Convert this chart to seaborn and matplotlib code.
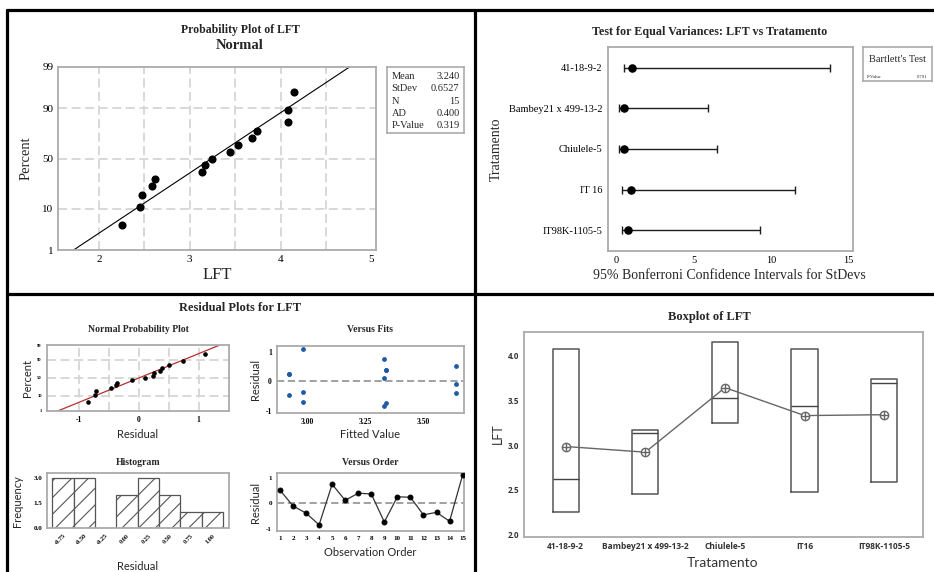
import matplotlib
matplotlib.use("Agg")
import numpy as np
import pandas as pd
import seaborn as sns
import matplotlib.pyplot as plt
from matplotlib.lines import Line2D
from statistics import NormalDist

# ---------------- data ----------------
treatments = ["41-18-9-2", "Bambey21 x 499-13-2", "Chiulele-5", "IT16", "IT98K-1105-5"]
obs_order = list(range(1, 16))
obs_treatment = ["Chiulele-5", "Chiulele-5", "Chiulele-5",
                 "IT16", "IT16", "IT16",
                 "IT98K-1105-5", "IT98K-1105-5", "IT98K-1105-5",
                 "Bambey21 x 499-13-2", "Bambey21 x 499-13-2", "Bambey21 x 499-13-2",
                 "41-18-9-2", "41-18-9-2", "41-18-9-2"]
lft = [4.15, 3.53, 3.25, 2.47, 4.08, 3.44, 3.74, 3.69, 2.59, 3.17, 3.14, 2.45, 2.62, 2.25, 4.08]
fitted = [3.64, 3.64, 3.64, 3.33, 3.33, 3.33, 3.34, 3.34, 3.34, 2.92, 2.92, 2.92, 2.98, 2.98, 2.98]
residual = [0.51, -0.11, -0.39, -0.85, 0.74, 0.11, 0.39, 0.36, -0.74, 0.25, 0.23, -0.46, -0.36, -0.71, 1.10]

prob_ticks = [1, 10, 50, 90, 99]
stat_names = ["Mean", "StDev", "N", "AD", "P-Value"]
stat_values = ["3.240", "0.6527", "15", "0.400", "0.319"]
fit_mean, fit_sd = 3.240, 0.6527

ci_labels = ["41-18-9-2", "Bambey21 x 499-13-2", "Chiulele-5", "IT 16", "IT98K-1105-5"]
ci_stdev = [1.01, 0.49, 0.47, 0.91, 0.71]
ci_lower = [0.47, 0.17, 0.17, 0.36, 0.32]
ci_upper = [13.8, 5.91, 6.51, 11.56, 9.28]
bartlett_p = "0.791"

hist_mid = [-0.75, -0.50, -0.25, 0.00, 0.25, 0.50, 0.75, 1.00]
hist_count = [3, 3, 0, 2, 3, 2, 1, 1]
hist_labels = ["-0.75", "-0.50", "-0.25", "0.00", "0.25", "0.50", "0.75", "1.00"]

# ---------------- setup ----------------
sns.set_style("white")
SERIF = ["Liberation Serif", "DejaVu Serif"]
SANS = ["Lato", "DejaVu Sans"]
SANS2 = ["Open Sans", "DejaVu Sans"]
plt.rcParams["font.family"] = SERIF
plt.rcParams["hatch.linewidth"] = 0.8
plt.rcParams["axes.unicode_minus"] = False

W, H = 934, 572
fig = plt.figure(figsize=(W / 100, H / 100), dpi=100)
fig.patch.set_facecolor("white")
nd = NormalDist()


def add_ax(x0, y0, x1, y1):
    return fig.add_axes([x0 / W, 1 - y1 / H, (x1 - x0) / W, (y1 - y0) / H])


def ftext(x, y, s, **kw):
    kw.setdefault("ha", "center")
    kw.setdefault("va", "center")
    fig.text(x / W, 1 - y / H, s, **kw)


SPINE = "#ababab"


def style_ax(ax, lw=1.3, size=7, family=SERIF, weight="normal", color="black"):
    for sp in ax.spines.values():
        sp.set_visible(True)
        sp.set_color(SPINE)
        sp.set_linewidth(lw)
    ax.tick_params(direction="out", length=2, width=0.6, color="#777777", pad=1.5,
                   labelsize=size, labelcolor=color)
    for lab in ax.get_xticklabels() + ax.get_yticklabels():
        lab.set_family(family)
        lab.set_weight(weight)
    ax.set_xlabel("")
    ax.set_ylabel("")
    if ax.get_legend() is not None:
        ax.get_legend().remove()


GRID = dict(color="#d6d6d6", lw=1.3, ls=(0, (5, 2.5)), zorder=0)
ZERO = dict(color="#9a9a9a", lw=1.3, ls=(0, (4, 2)), zorder=1)

# ---------------- panel borders ----------------
for (x0, y0, x1, y1) in [(7, 10, 934, 10), (7, 10, 7, 572), (475, 10, 475, 572), (7, 294, 934, 294)]:
    fig.add_artist(Line2D([x0 / W, x1 / W], [1 - y0 / H, 1 - y1 / H],
                          transform=fig.transFigure, color="black", lw=2.3))

# ---------------- top-left: probability plot ----------------
ax = add_ax(58, 67, 376, 250)
x_sorted = np.sort(lft)
n = len(x_sorted)
z_pos = [nd.inv_cdf((i - 0.3) / (n + 0.4)) for i in range(1, n + 1)]
zlim = nd.inv_cdf(0.99)
for gx in [2, 2.5, 3, 3.5, 4, 4.5]:
    ax.axvline(gx, **GRID)
for p in [10, 50, 90]:
    ax.axhline(nd.inv_cdf(p / 100), **GRID)
line_z = np.array([-2.7, 2.7])
sns.lineplot(x=fit_mean + fit_sd * line_z, y=line_z, sort=False, color="black", lw=0.8, ax=ax)
sns.scatterplot(x=x_sorted, y=z_pos, color="black", s=34, edgecolor="black", linewidth=0, ax=ax, zorder=3)
ax.set_xlim(1.55, 5.05)
ax.set_ylim(-zlim, zlim)
ax.set_xticks([2, 3, 4, 5])
ax.set_yticks([nd.inv_cdf(p / 100) for p in prob_ticks], [str(p) for p in prob_ticks])
style_ax(ax, size=8)
ftext(240, 30.5, "Probability Plot of LFT", fontsize=8.5, weight="bold")
ftext(240, 45.5, "Normal", fontsize=10.5, weight="bold")
ftext(26, 158, "Percent", fontsize=10.5, rotation=90)
ftext(217, 275, "LFT", fontsize=12)

sb = add_ax(387.3, 66.7, 464.3, 132.7)
sb.set_xticks([])
sb.set_yticks([])
for sp in sb.spines.values():
    sp.set_color(SPINE)
    sp.set_linewidth(1.2)
for i, (nm, vl) in enumerate(zip(stat_names, stat_values)):
    yy = 76.7 + i * 12.2
    ftext(391.5, yy, nm, fontsize=7.5, ha="left")
    ftext(459.5, yy, vl, fontsize=7.5, ha="right")

# ---------------- top-right: equal variances ----------------
ax = add_ax(607.7, 47.3, 853.3, 250.7)
ypos = np.arange(len(ci_labels))
ax.errorbar(x=ci_stdev, y=ypos,
            xerr=[np.subtract(ci_stdev, ci_lower), np.subtract(ci_upper, ci_stdev)],
            fmt="none", ecolor="#1e1e1e", elinewidth=1.0, capsize=3, capthick=1.0)
sns.scatterplot(x=ci_stdev, y=ypos, color="black", s=38, edgecolor="black", linewidth=0, ax=ax, zorder=3)
ax.set_ylim(4.5, -0.5)
ax.set_xlim(-0.58, 15.3)
ax.set_yticks(ypos, ci_labels)
ax.set_xticks([0, 5, 10, 15])
style_ax(ax, size=7.5)
ax.tick_params(axis="y", length=2.5)
ftext(710, 32, "Test for Equal Variances: LFT vs Tratamento", fontsize=8.7, weight="bold")
ftext(729, 275, "95% Bonferroni Confidence Intervals for StDevs", fontsize=10)
ftext(496, 149, "Tratamento", fontsize=10, rotation=90)

bb = add_ax(863.3, 47.3, 931.7, 80.7)
bb.set_xticks([])
bb.set_yticks([])
for sp in bb.spines.values():
    sp.set_color(SPINE)
    sp.set_linewidth(1.2)
ftext(897.5, 59.3, "Bartlett's Test", fontsize=7.5)
ftext(866.5, 76.5, "P-Value", fontsize=3.3, ha="left")
ftext(927.5, 76.5, bartlett_p, fontsize=3.3, ha="right")

# ---------------- bottom-left: residual plots ----------------
ftext(240, 308, "Residual Plots for LFT", fontsize=9, weight="bold")

# Normal probability plot of residuals
ax = add_ax(46.7, 345, 229.3, 410.7)
r_sorted = np.sort(residual)
nr = len(r_sorted)
zr = [nd.inv_cdf((i - 0.3) / (nr + 0.4)) for i in range(1, nr + 1)]
r_mean, r_sd = np.mean(residual), np.std(residual, ddof=1)
for gx in [-1, -0.5, 0, 0.5, 1]:
    ax.axvline(gx, **GRID)
for p in [10, 50, 90]:
    ax.axhline(nd.inv_cdf(p / 100), **GRID)
sns.lineplot(x=r_mean + r_sd * line_z, y=line_z, sort=False, color="#b33030", lw=0.9, ax=ax)
sns.scatterplot(x=r_sorted, y=zr, color="black", s=11, edgecolor="black", linewidth=0, ax=ax, zorder=3)
ax.set_xlim(-1.54, 1.51)
ax.set_ylim(-zlim, zlim)
ax.set_xticks([-1, 0, 1])
ax.set_yticks([nd.inv_cdf(p / 100) for p in prob_ticks], [str(p) for p in prob_ticks])
style_ax(ax, size=5.5, weight="bold")
ax.tick_params(axis="y", labelsize=3.3)
ftext(138, 329.3, "Normal Probability Plot", fontsize=7, weight="bold")
ftext(28, 378, "Percent", fontsize=8, rotation=90, family=SANS)
ftext(138, 434.3, "Residual", fontsize=8, family=SANS)

# Versus fits
ax = add_ax(276.7, 345.7, 464.3, 412.7)
ax.axhline(0, **ZERO)
sns.scatterplot(x=fitted, y=residual, color="#1f5aa6", s=12, edgecolor="#1f5aa6", linewidth=0, ax=ax, zorder=3)
ax.set_xlim(2.866, 3.677)
ax.set_ylim(-1.07, 1.2)
ax.set_xticks([3.0, 3.25, 3.5], ["3.00", "3.25", "3.50"])
ax.set_yticks([-1, 0, 1])
style_ax(ax, size=5.5, weight="bold")
ftext(370, 329.3, "Versus Fits", fontsize=7, weight="bold")
ftext(255, 379, "Residual", fontsize=8, rotation=90, family=SANS)
ftext(370, 434.3, "Fitted Value", fontsize=8, family=SANS)

# Histogram
ax = add_ax(47.3, 473.3, 229.3, 528.3)
sns.histplot(x=hist_mid, weights=hist_count, binwidth=0.25, binrange=(-0.875, 1.125),
             color="white", edgecolor="#555555", linewidth=0.9, alpha=1, ax=ax)
for patch in ax.patches:
    patch.set_hatch("//")
ax.set_xlim(-0.934, 1.199)
ax.set_ylim(0, 3.3)
ax.set_xticks(hist_mid, hist_labels)
ax.set_yticks([0, 1.5, 3.0], ["0.0", "1.5", "3.0"])
style_ax(ax, size=5, weight="bold")
for lab in ax.get_xticklabels():
    lab.set_rotation(45)
    lab.set_ha("right")
    lab.set_va("top")
    lab.set_rotation_mode("anchor")
    lab.set_fontsize(4.5)
ftext(138, 462.7, "Histogram", fontsize=7, weight="bold")
ftext(18, 500.8, "Frequency", fontsize=8, rotation=90, family=SANS)
ftext(138, 566.5, "Residual", fontsize=8, family=SANS)

# Versus order
ax = add_ax(276.7, 473.3, 464.3, 530.7)
ax.axhline(0, **ZERO)
sns.lineplot(x=obs_order, y=residual, color="#333333", lw=0.9, marker="o", markersize=3.5,
             markeredgecolor="black", markerfacecolor="black", ax=ax, zorder=3)
ax.set_xlim(0.75, 15.13)
ax.set_ylim(-1.08, 1.17)
ax.set_xticks(obs_order)
ax.set_yticks([-1, 0, 1])
style_ax(ax, size=5, weight="bold")
ftext(370, 462.7, "Versus Order", fontsize=7, weight="bold")
ftext(255, 502, "Residual", fontsize=8, rotation=90, family=SANS)
ftext(370, 552.3, "Observation Order", fontsize=8, family=SANS)

# ---------------- bottom-right: boxplot ----------------
ax = add_ax(524.3, 331.7, 923.3, 537.3)
df = pd.DataFrame({"Tratamento": obs_treatment, "LFT": lft})
stats = []
for t in treatments:
    v = df.loc[df["Tratamento"] == t, "LFT"].to_numpy()
    q1 = np.percentile(v, 25, method="weibull")
    q3 = np.percentile(v, 75, method="weibull")
    stats.append(dict(med=np.median(v), q1=q1, q3=q3, whislo=v.min(), whishi=v.max(), fliers=[], label=t))
ax.bxp(stats, positions=list(range(len(treatments))), widths=0.33, showfliers=False, showcaps=False,
       boxprops=dict(color="#555555", lw=1.1), medianprops=dict(color="#444444", lw=1.0),
       whiskerprops=dict(color="#555555", lw=1.0))
sns.pointplot(data=df, x="Tratamento", y="LFT", order=treatments, estimator="mean", errorbar=None,
              color="#666666", markers="o", linewidth=1.0, markersize=6,
              markerfacecolor="white", markeredgecolor="#666666", markeredgewidth=1.0, ax=ax)
sns.pointplot(data=df, x="Tratamento", y="LFT", order=treatments, estimator="mean", errorbar=None,
              color="#666666", markers="+", linestyles="none", markersize=6,
              markeredgewidth=1.0, ax=ax)
ax.set_xlim(-0.52, 4.49)
ax.set_ylim(1.966, 4.27)
ax.set_xticks(range(len(treatments)), treatments)
ax.set_yticks([2.0, 2.5, 3.0, 3.5, 4.0], ["2.0", "2.5", "3.0", "3.5", "4.0"])
style_ax(ax, size=6, family=SANS2, weight="bold", color="#333333")
ax.tick_params(axis="y", labelsize=5.8)
ftext(709, 316.7, "Boxplot of LFT", fontsize=9, weight="bold")
ftext(723, 562.7, "Tratamento", fontsize=10, family=SANS, color="#333333")
ftext(498, 434, "LFT", fontsize=9, rotation=90, family=SANS, color="#333333")

fig.savefig("out.png", dpi=100, facecolor="white")
